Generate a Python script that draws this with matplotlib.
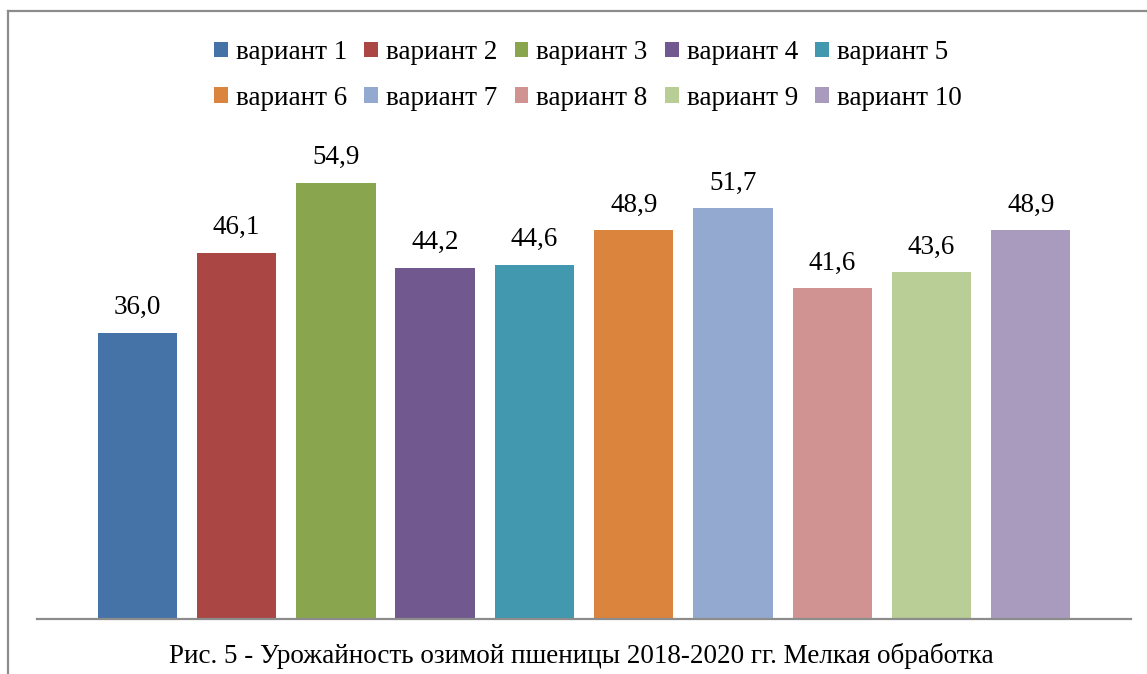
import matplotlib.pyplot as plt
from matplotlib.lines import Line2D

plt.rcParams['font.family'] = ['Liberation Serif', 'DejaVu Serif']

variants = ['вариант 1', 'вариант 2', 'вариант 3', 'вариант 4', 'вариант 5',
            'вариант 6', 'вариант 7', 'вариант 8', 'вариант 9', 'вариант 10']
yields = [36.0, 46.1, 54.9, 44.2, 44.6, 48.9, 51.7, 41.6, 43.6, 48.9]
colors = ['#4572A7', '#AA4643', '#89A54E', '#71588F', '#4198AF',
          '#DB843D', '#93A9CF', '#D19392', '#B9CD96', '#A99BBD']
caption = 'Рис. 5 - Урожайность озимой пшеницы 2018-2020 гг. Мелкая обработка'

fig = plt.figure(figsize=(11.47, 6.74), dpi=100)
ax = fig.add_axes([0.0323, 0.082, 0.9538, 0.707])

bars = []
for i, (name, val, c) in enumerate(zip(variants, yields, colors)):
    b = ax.bar(i, val, width=0.8, color=c, label=name)
    bars.append(b)
    ax.annotate(f'{val:.1f}'.replace('.', ','), (i, val),
                xytext=(0, 9), textcoords='offset points',
                ha='center', va='bottom', fontsize=19.5)

ax.set_xlim(-1.01, 10.01)
ax.set_ylim(0, 60)
ax.set_xticks([])
ax.set_yticks([])
for s in ['top', 'right', 'left']:
    ax.spines[s].set_visible(False)
ax.spines['bottom'].set_color('#8c8c8c')
ax.spines['bottom'].set_linewidth(1.6)

# legend is filled column by column, so reorder to get two rows of five
order = [0, 5, 1, 6, 2, 7, 3, 8, 4, 9]
fig.legend([bars[k] for k in order], [variants[k] for k in order],
           loc='center', bbox_to_anchor=(0.5126, 0.888), ncol=5, frameon=False,
           fontsize=19.5, handlelength=0.5, handleheight=0.5, handletextpad=0.3,
           columnspacing=0.64, labelspacing=0.75)

fig.text(0.507, 0.026, caption, ha='center', va='center', fontsize=19.5)

# outer frame, cut off at the right and bottom
fx, fy = 8 / 1147, 1 - 11 / 674
fig.add_artist(Line2D([fx, fx], [0, fy], transform=fig.transFigure,
                      color='#8c8c8c', lw=1.6))
fig.add_artist(Line2D([fx, 1], [fy, fy], transform=fig.transFigure,
                      color='#8c8c8c', lw=1.6))

fig.savefig('out.png', dpi=100)
